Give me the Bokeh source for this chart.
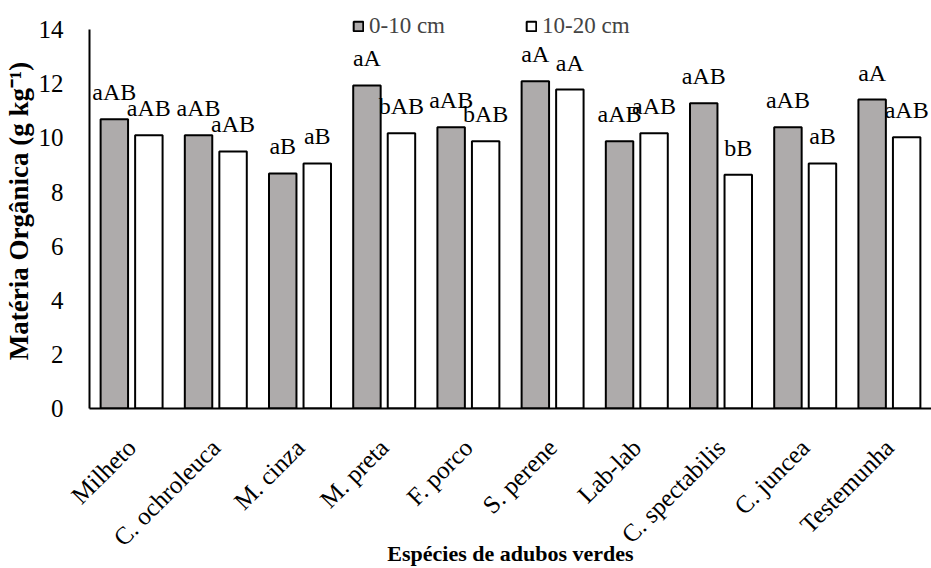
import math
from bokeh.plotting import figure
from bokeh.models import (ColumnDataSource, FactorRange, FixedTicker, Legend, LegendItem)
from bokeh.transform import dodge
from bokeh.embed import file_html
from bokeh.resources import INLINE

categories = ["Milheto", "C. ochroleuca", "M. cinza", "M. preta", "F. porco",
              "S. perene", "Lab-lab", "C. spectabilis", "C. juncea", "Testemunha"]
mo_0_10 = [10.69, 10.10, 8.69, 11.94, 10.40, 12.10, 9.88, 11.28, 10.40, 11.42]
mo_10_20 = [10.10, 9.50, 9.06, 10.17, 9.88, 11.79, 10.17, 8.64, 9.06, 10.03]
lab_0_10 = ["aAB", "aAB", "aB", "aA", "aAB", "aA", "aAB", "aAB", "aAB", "aA"]
lab_10_20 = ["aAB", "aAB", "aB", "bAB", "bAB", "aA", "aAB", "bB", "aB", "aAB"]
y_ticks = [0, 2, 4, 6, 8, 10, 12, 14]

FONT = "Liberation Serif"
GRAY = "#AEABAB"

src = ColumnDataSource(dict(cat=categories, v1=mo_0_10, v2=mo_10_20, l1=lab_0_10, l2=lab_10_20))

p = figure(width=931, height=568, x_range=FactorRange(factors=categories, range_padding=0),
           y_range=(0, 14.6), output_backend="svg", toolbar_location=None,
           min_border_left=89, min_border_right=0, min_border_top=13, min_border_bottom=160)
p.outline_line_color = None
p.xgrid.grid_line_color = None
p.ygrid.grid_line_color = None

r1 = p.vbar(x=dodge("cat", -0.205, range=p.x_range), top="v1", width=0.326, source=src,
            fill_color=GRAY, line_color="black", line_width=2)
r2 = p.vbar(x=dodge("cat", 0.205, range=p.x_range), top="v2", width=0.326, source=src,
            fill_color="white", line_color="black", line_width=2)

for col, lab, off in (("v1", "l1", -0.205), ("v2", "l2", 0.205)):
    p.text(x=dodge("cat", off, range=p.x_range), y=col, text=lab, source=src,
           text_align="center", text_baseline="alphabetic", y_offset=-27,
           text_font=FONT, text_font_size="24px", text_color="black")

ya = p.yaxis[0]
ya.ticker = FixedTicker(ticks=y_ticks)
ya.bounds = (0, 14)
ya.major_tick_line_color = None
ya.minor_tick_line_color = None
ya.axis_line_width = 2
ya.axis_line_color = "black"
ya.major_label_standoff = 20
ya.major_label_text_font = FONT
ya.major_label_text_font_size = "25px"
ya.major_label_text_color = "black"
ya.axis_label = "Matéria Orgânica (g kg\u207b\u00b9)"
ya.axis_label_text_font = FONT
ya.axis_label_text_font_style = "bold"
ya.axis_label_text_font_size = "27px"
ya.axis_label_text_color = "black"
ya.axis_label_standoff = 2

xa = p.xaxis[0]
xa.major_tick_line_color = None
xa.minor_tick_line_color = None
xa.axis_line_width = 2
xa.axis_line_color = "black"
xa.major_label_orientation = math.pi / 4
xa.major_label_standoff = 29
xa.major_label_text_font = FONT
xa.major_label_text_font_size = "25px"
xa.major_label_text_color = "black"
xa.axis_label = "Espécies de adubos verdes"
xa.axis_label_text_font = FONT
xa.axis_label_text_font_style = "bold"
xa.axis_label_text_font_size = "22px"
xa.axis_label_text_color = "black"
xa.axis_label_standoff = -23

legend = Legend(items=[LegendItem(label="0-10 cm", renderers=[r1]),
                       LegendItem(label="10-20 cm", renderers=[r2])],
                orientation="horizontal", location=(263, 369), padding=0, margin=0,
                spacing=80, glyph_width=12, glyph_height=12, label_standoff=5,
                label_text_font=FONT, label_text_font_size="23px",
                border_line_color=None, background_fill_alpha=0)
p.add_layout(legend)

open("out.html", "w").write(file_html(p, INLINE))
